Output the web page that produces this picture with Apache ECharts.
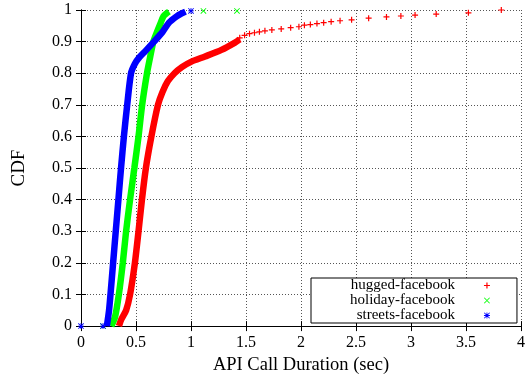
<!DOCTYPE html>
<html>
<head>
<meta charset="utf-8">
<script src="https://cdn.jsdelivr.net/npm/echarts@6/dist/echarts.min.js"></script>
<style>html,body{margin:0;padding:0;background:#fff;}#c{width:528px;height:380px;}</style>
</head>
<body>
<div id="c"></div>
<script>
// ---- data ----
const seriesNames = ['hugged-facebook', 'holiday-facebook', 'streets-facebook'];

// hugged-facebook: dense part (line) and sparse tail (points)
const huggedX = [0.345, 0.365, 0.41, 0.446, 0.49, 0.523, 0.554, 0.59, 0.64, 0.70, 0.74, 0.79, 0.85, 0.92, 1.0, 1.128, 1.277, 1.40, 1.443];
const huggedY = [0, 0.02, 0.05, 0.1, 0.2, 0.3, 0.4, 0.5, 0.6, 0.7, 0.74, 0.775, 0.8, 0.82, 0.836, 0.853, 0.874, 0.897, 0.907];
const huggedTailX = [1.443, 1.487, 1.532, 1.577, 1.622, 1.672, 1.735, 1.82, 1.906, 1.981, 2.031, 2.085, 2.145, 2.206, 2.274, 2.355, 2.46, 2.615, 2.777, 2.908, 3.037, 3.229, 3.522, 3.821];
const huggedTailY = [0.912, 0.92, 0.925, 0.928, 0.931, 0.934, 0.937, 0.94, 0.944, 0.947, 0.952, 0.954, 0.957, 0.96, 0.963, 0.966, 0.969, 0.974, 0.978, 0.981, 0.984, 0.987, 0.991, 1.0];

// holiday-facebook
const holidayX = [0.275, 0.31, 0.344, 0.38, 0.41, 0.446, 0.485, 0.523, 0.556, 0.6, 0.628, 0.658, 0.69, 0.725, 0.75, 0.78, 0.8];
const holidayY = [0, 0.03, 0.1, 0.2, 0.3, 0.4, 0.5, 0.6, 0.7, 0.8, 0.85, 0.9, 0.93, 0.96, 0.98, 0.99, 0.995];
const holidayPtsX = [0.2, 1.113, 1.418];
const holidayPtsY = [0, 0.997, 0.997];

// streets-facebook
const streetsX = [0.235, 0.255, 0.268, 0.292, 0.316, 0.34, 0.364, 0.39, 0.42, 0.455, 0.49, 0.53, 0.585, 0.664, 0.74, 0.8, 0.87, 0.92, 0.95];
const streetsY = [0, 0.05, 0.1, 0.2, 0.3, 0.4, 0.5, 0.6, 0.7, 0.8, 0.83, 0.85, 0.87, 0.9, 0.93, 0.96, 0.98, 0.99, 0.995];
const streetsPtsX = [0, 0.2, 1.0];
const streetsPtsY = [0, 0, 0.997];

const xTickLabels = ['0', '0.5', '1', '1.5', '2', '2.5', '3', '3.5', '4'];
const yTickLabels = ['0', '0.1', '0.2', '0.3', '0.4', '0.5', '0.6', '0.7', '0.8', '0.9', '1'];

// ---- styling ----
const colors = ['#ff0000', '#00ff00', '#0000ff'];
const FONT = '"Liberation Serif", "Times New Roman", serif';
const PLUS = 'path://M4,0h2v10h-2zM0,4h10v2h-10z';
const CROSS = 'path://M0,1L1,0L10,9L9,10ZM9,0L10,1L1,10L0,9Z';
const STAR = 'path://M4.3,0h1.4v10h-1.4zM0,4.3h10v1.4h-10zM0,1L1,0L10,9L9,10ZM9,0L10,1L1,10L0,9Z';
const icons = [PLUS, CROSS, STAR];

const pairs = (xs, ys) => xs.map((x, i) => [x, ys[i]]);

const dense = [pairs(huggedX, huggedY), pairs(holidayX, holidayY), pairs(streetsX, streetsY)];
const pts = [pairs(huggedTailX, huggedTailY), pairs(holidayPtsX, holidayPtsY), pairs(streetsPtsX, streetsPtsY)];

const series = [];
for (let i = 0; i < 3; i++) {
  series.push({
    name: seriesNames[i], type: 'scatter', data: pts[i], symbol: icons[i], symbolSize: 6,
    itemStyle: { color: colors[i], opacity: 1 }, silent: true, z: 3 + i
  });
  series.push({
    name: seriesNames[i], type: 'line', data: dense[i], showSymbol: false, smooth: 0.25,
    lineStyle: { color: colors[i], width: 6.5 }, itemStyle: { color: colors[i] }, silent: true, z: 3 + i
  });
}

const labelStyle = { fontFamily: FONT, fontSize: 16, color: '#000' };
const splitStyle = { show: true, lineStyle: { color: '#555', width: 1, type: [1, 2] } };
const lineBlack = { show: true, lineStyle: { color: '#000', width: 1 } };
const tickIn = { show: true, inside: true, length: 5, lineStyle: { color: '#000', width: 1 } };

const chart = echarts.init(document.getElementById('c'), null, { renderer: 'canvas' });
chart.setOption({
  animation: false,
  backgroundColor: '#fff',
  grid: { left: 81, right: 3, top: 10, bottom: 52, containLabel: false },
  xAxis: [
    {
      type: 'value', min: 0, max: 4, interval: 0.5, position: 'bottom',
      axisLine: lineBlack, axisTick: tickIn, splitLine: splitStyle,
      axisLabel: Object.assign({ margin: 9, formatter: (v) => xTickLabels[Math.round(v / 0.5)] }, labelStyle),
      name: 'API Call Duration (sec)', nameLocation: 'middle', nameGap: 29,
      nameTextStyle: { fontFamily: FONT, fontSize: 18.5, color: '#000' }
    },
    {
      type: 'value', min: 0, max: 4, interval: 0.5, position: 'top',
      axisLine: lineBlack, axisTick: tickIn, splitLine: { show: false }, axisLabel: { show: false }
    }
  ],
  yAxis: [
    {
      type: 'value', min: 0, max: 1, interval: 0.1, position: 'left',
      axisLine: lineBlack, axisTick: tickIn, splitLine: splitStyle,
      axisLabel: Object.assign({ margin: 9, formatter: (v) => yTickLabels[Math.round(v * 10)] }, labelStyle),
      name: 'CDF', nameLocation: 'middle', nameGap: 52,
      nameTextStyle: { fontFamily: FONT, fontSize: 19, color: '#000' }
    },
    {
      type: 'value', min: 0, max: 1, interval: 0.1, position: 'right',
      axisLine: lineBlack, axisTick: tickIn, splitLine: { show: false }, axisLabel: { show: false }
    }
  ],
  legend: {
    orient: 'vertical', left: 311, top: 278, align: 'right',
    itemWidth: 6, itemHeight: 6, itemGap: 0,
    padding: [0, 27, 0, 39],
    borderColor: '#000', borderWidth: 1, backgroundColor: '#fff',
    selectedMode: false,
    data: seriesNames.map((n, i) => ({ name: n, icon: icons[i] })),
    formatter: (n) => '{t|' + n + '}',
    textStyle: {
      fontFamily: FONT, fontSize: 15, color: '#000',
      rich: { t: { fontFamily: FONT, fontSize: 15, color: '#000', lineHeight: 15, padding: [0, 24, 0, 0] } }
    }
  },
  series: series
});
</script>
</body>
</html>
